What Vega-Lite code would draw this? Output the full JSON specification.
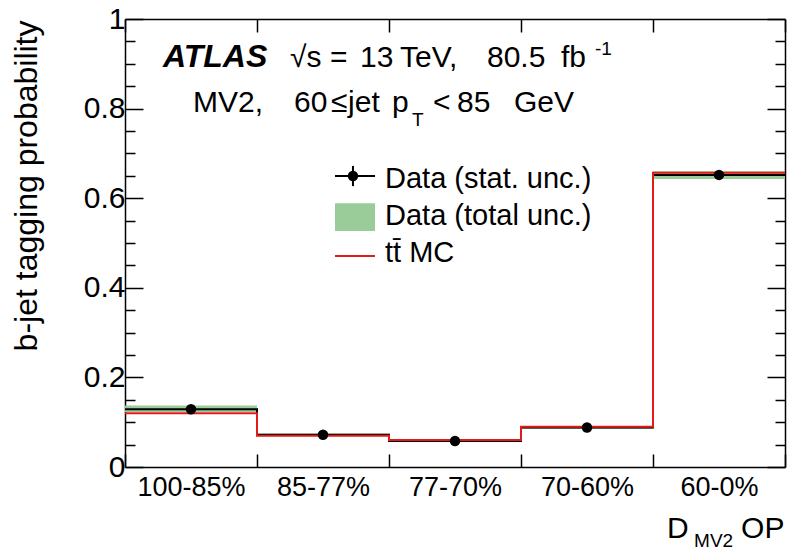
{
  "$schema": "https://vega.github.io/schema/vega-lite/v6.json",
  "width": 660,
  "height": 448,
  "autosize": {"type": "none"},
  "padding": {"left": 125, "top": 19, "right": 3, "bottom": 84},
  "background": "white",
  "config": {
    "view": {"stroke": null},
    "font": "Liberation Sans",
    "axis": {
      "grid": false,
      "domainColor": "black",
      "domainWidth": 1.5,
      "tickColor": "black",
      "tickWidth": 1.5,
      "labelColor": "black",
      "labelFont": "Liberation Sans",
      "titleFont": "Liberation Sans",
      "titleColor": "black",
      "labelFlush": false,
      "labelOverlap": false
    }
  },
  "datasets": {
    "bins": [
      {"bin": "100-85%", "lo": 0, "hi": 1, "mid": 0.5, "data": 0.129, "mc": 0.120, "tlo": 0.123, "thi": 0.137, "slo": 0.127, "shi": 0.131, "edges": [0, 1], "k": [0, 1]},
      {"bin": "85-77%", "lo": 1, "hi": 2, "mid": 1.5, "data": 0.072, "mc": 0.070, "tlo": 0.069, "thi": 0.075, "slo": 0.071, "shi": 0.073, "edges": [1, 2], "k": [0, 1]},
      {"bin": "77-70%", "lo": 2, "hi": 3, "mid": 2.5, "data": 0.058, "mc": 0.060, "tlo": 0.056, "thi": 0.060, "slo": 0.057, "shi": 0.059, "edges": [2, 3], "k": [0, 1]},
      {"bin": "70-60%", "lo": 3, "hi": 4, "mid": 3.5, "data": 0.088, "mc": 0.090, "tlo": 0.085, "thi": 0.091, "slo": 0.087, "shi": 0.089, "edges": [3, 4], "k": [0, 1]},
      {"bin": "60-0%", "lo": 4, "hi": 5, "mid": 4.5, "data": 0.652, "mc": 0.657, "tlo": 0.643, "thi": 0.660, "slo": 0.650, "shi": 0.654, "edges": [4, 5], "k": [0, 1]}
    ],
    "legend": [
      {"item": "stat", "label": "Data (stat. unc.)", "x1": 1.591, "x2": 1.894, "xm": 1.727, "xt": 1.97, "ys": 0.6496, "ylo": 0.627, "yhi": 0.672, "ytext": 0.6228},
      {"item": "total", "label": "Data (total unc.)", "x1": 1.591, "x2": 1.894, "xm": 1.727, "xt": 1.97, "ys": 0.558, "ylo": 0.527, "yhi": 0.589, "ytext": 0.5402},
      {"item": "mc", "label": "tt̄ MC", "x1": 1.591, "x2": 1.894, "xm": 1.727, "xt": 1.97, "ys": 0.471, "ylo": 0.471, "yhi": 0.471, "ytext": 0.4576}
    ],
    "annot": [
      {"kind": "atlas", "text": "ATLAS", "x": 0.288, "y": 0.893},
      {"kind": "main", "text": "√s", "x": 1.25, "y": 0.893},
      {"kind": "main", "text": "=", "x": 1.553, "y": 0.893},
      {"kind": "main", "text": "13", "x": 1.78, "y": 0.893},
      {"kind": "main", "text": "TeV,", "x": 2.083, "y": 0.893},
      {"kind": "main", "text": "80.5", "x": 2.742, "y": 0.893},
      {"kind": "main", "text": "fb", "x": 3.303, "y": 0.893},
      {"kind": "small", "text": "-1", "x": 3.56, "y": 0.9196},
      {"kind": "main", "text": "MV2,", "x": 0.515, "y": 0.7924},
      {"kind": "main", "text": "60", "x": 1.28, "y": 0.7924},
      {"kind": "main", "text": "≤", "x": 1.56, "y": 0.7924},
      {"kind": "main", "text": "jet", "x": 1.69, "y": 0.7924},
      {"kind": "main", "text": "p", "x": 2.023, "y": 0.7924},
      {"kind": "small", "text": "T", "x": 2.174, "y": 0.761},
      {"kind": "main", "text": "<", "x": 2.333, "y": 0.7924},
      {"kind": "main", "text": "85", "x": 2.515, "y": 0.7924},
      {"kind": "main", "text": "GeV", "x": 2.947, "y": 0.7924},
      {"kind": "main", "text": "D", "x": 4.106, "y": -0.1585},
      {"kind": "small", "text": "MV2", "x": 4.311, "y": -0.1786},
      {"kind": "main", "text": "OP", "x": 4.667, "y": -0.1585}
    ]
  },
  "layer": [
    {
      "data": {"name": "bins"},
      "mark": {"type": "rect", "color": "#99cc99", "opacity": 1},
      "encoding": {
        "x": {"field": "lo", "type": "quantitative", "scale": {"domain": [0, 5], "nice": false, "zero": false},
          "axis": {
            "orient": "bottom", "title": null,
            "values": [0, 0.5, 1, 1.5, 2, 2.5, 3, 3.5, 4, 4.5, 5],
            "labelExpr": "datum.value % 1 == 0.5 ? ['100-85%','85-77%','77-70%','70-60%','60-0%'][floor(datum.value)] : ''",
            "tickSize": -13,
            "tickOpacity": {"condition": {"test": "datum.value % 1 == 0.5", "value": 0}, "value": 1},
            "labelFontSize": 27,
            "labelPadding": 20,
            "labelBaseline": "top"
          }},
        "x2": {"field": "hi"},
        "y": {"field": "tlo", "type": "quantitative", "scale": {"domain": [0, 1], "nice": false, "zero": false},
          "axis": {
            "orient": "left",
            "values": [0, 0.05, 0.1, 0.15, 0.2, 0.25, 0.3, 0.35, 0.4, 0.45, 0.5, 0.55, 0.6, 0.65, 0.7, 0.75, 0.8, 0.85, 0.9, 0.95, 1],
            "labelExpr": "abs(datum.value*5 - round(datum.value*5)) < 0.001 ? (datum.value < 0.001 ? '0' : (datum.value > 0.999 ? '1' : format(datum.value, '.1f'))) : ''",
            "tickSize": {"condition": {"test": "abs(datum.value*5 - round(datum.value*5)) < 0.001", "value": -18}, "value": -10},
            "labelFontSize": 30,
            "labelPadding": 18,
            "title": "b-jet tagging probability",
            "titleFontSize": 32,
            "titleFontWeight": "normal",
            "titleAngle": -90,
            "titleAnchor": "end",
            "titleAlign": "right",
            "titleBaseline": "bottom",
            "titleX": -82,
            "titleY": 1
          }},
        "y2": {"field": "thi"}
      }
    },
    {
      "data": {"name": "bins"},
      "transform": [{"flatten": ["edges", "k"]}],
      "mark": {"type": "line", "color": "black", "strokeWidth": 2},
      "encoding": {
        "x": {"field": "edges", "type": "quantitative", "scale": {"domain": [0, 5], "nice": false, "zero": false},
          "axis": {"orient": "top", "title": null, "labels": false, "values": [0, 1, 2, 3, 4, 5], "tickSize": -13}},
        "y": {"field": "data", "type": "quantitative", "scale": {"domain": [0, 1], "nice": false, "zero": false},
          "axis": {"orient": "right", "title": null, "labels": false,
            "values": [0, 0.05, 0.1, 0.15, 0.2, 0.25, 0.3, 0.35, 0.4, 0.45, 0.5, 0.55, 0.6, 0.65, 0.7, 0.75, 0.8, 0.85, 0.9, 0.95, 1],
            "tickSize": {"condition": {"test": "abs(datum.value*5 - round(datum.value*5)) < 0.001", "value": -18}, "value": -10}}},
        "order": [{"field": "lo"}, {"field": "k"}]
      }
    },
    {
      "data": {"name": "bins"},
      "transform": [{"flatten": ["edges", "k"]}],
      "mark": {"type": "line", "color": "#e31a1c", "strokeWidth": 2},
      "encoding": {
        "x": {"field": "edges", "type": "quantitative", "scale": {"domain": [0, 5], "nice": false, "zero": false}, "axis": null},
        "y": {"field": "mc", "type": "quantitative", "scale": {"domain": [0, 1], "nice": false, "zero": false}, "axis": null},
        "order": [{"field": "lo"}, {"field": "k"}]
      }
    },
    {
      "data": {"name": "bins"},
      "mark": {"type": "rule", "color": "black", "strokeWidth": 2},
      "encoding": {
        "x": {"field": "mid", "type": "quantitative", "scale": {"domain": [0, 5], "nice": false, "zero": false}, "axis": null},
        "y": {"field": "slo", "type": "quantitative", "scale": {"domain": [0, 1], "nice": false, "zero": false}, "axis": null},
        "y2": {"field": "shi"}
      }
    },
    {
      "data": {"name": "bins"},
      "mark": {"type": "circle", "color": "black", "opacity": 1, "size": 110},
      "encoding": {
        "x": {"field": "mid", "type": "quantitative", "scale": {"domain": [0, 5], "nice": false, "zero": false}, "axis": null},
        "y": {"field": "data", "type": "quantitative", "scale": {"domain": [0, 1], "nice": false, "zero": false}, "axis": null}
      }
    },
    {
      "data": {"name": "legend"},
      "transform": [{"filter": "datum.item == 'total'"}],
      "mark": {"type": "rect", "color": "#99cc99", "opacity": 1},
      "encoding": {
        "x": {"field": "x1", "type": "quantitative", "scale": {"domain": [0, 5], "nice": false, "zero": false}, "axis": null},
        "x2": {"field": "x2"},
        "y": {"field": "ylo", "type": "quantitative", "scale": {"domain": [0, 1], "nice": false, "zero": false}, "axis": null},
        "y2": {"field": "yhi"}
      }
    },
    {
      "data": {"name": "legend"},
      "transform": [{"filter": "datum.item != 'total'"}],
      "mark": {"type": "rule", "strokeWidth": 2},
      "encoding": {
        "x": {"field": "x1", "type": "quantitative", "scale": {"domain": [0, 5], "nice": false, "zero": false}, "axis": null},
        "x2": {"field": "x2"},
        "y": {"field": "ys", "type": "quantitative", "scale": {"domain": [0, 1], "nice": false, "zero": false}, "axis": null},
        "color": {"field": "item", "type": "nominal", "scale": {"domain": ["stat", "mc"], "range": ["black", "#e31a1c"]}, "legend": null}
      }
    },
    {
      "data": {"name": "legend"},
      "transform": [{"filter": "datum.item == 'stat'"}],
      "mark": {"type": "rule", "strokeWidth": 2, "color": "black"},
      "encoding": {
        "x": {"field": "xm", "type": "quantitative", "scale": {"domain": [0, 5], "nice": false, "zero": false}, "axis": null},
        "y": {"field": "ylo", "type": "quantitative", "scale": {"domain": [0, 1], "nice": false, "zero": false}, "axis": null},
        "y2": {"field": "yhi"}
      }
    },
    {
      "data": {"name": "legend"},
      "transform": [{"filter": "datum.item == 'stat'"}],
      "mark": {"type": "circle", "color": "black", "opacity": 1, "size": 110},
      "encoding": {
        "x": {"field": "xm", "type": "quantitative", "scale": {"domain": [0, 5], "nice": false, "zero": false}, "axis": null},
        "y": {"field": "ys", "type": "quantitative", "scale": {"domain": [0, 1], "nice": false, "zero": false}, "axis": null}
      }
    },
    {
      "data": {"name": "legend"},
      "mark": {"type": "text", "align": "left", "baseline": "alphabetic", "fontSize": 29, "color": "black", "font": "Liberation Sans"},
      "encoding": {
        "x": {"field": "xt", "type": "quantitative", "scale": {"domain": [0, 5], "nice": false, "zero": false}, "axis": null},
        "y": {"field": "ytext", "type": "quantitative", "scale": {"domain": [0, 1], "nice": false, "zero": false}, "axis": null},
        "text": {"field": "label"}
      }
    },
    {
      "data": {"name": "annot"},
      "transform": [{"filter": "datum.kind == 'atlas'"}],
      "mark": {"type": "text", "align": "left", "baseline": "alphabetic", "fontSize": 32, "fontWeight": "bold", "fontStyle": "italic", "color": "black", "font": "Liberation Sans"},
      "encoding": {
        "x": {"field": "x", "type": "quantitative", "scale": {"domain": [0, 5], "nice": false, "zero": false}, "axis": null},
        "y": {"field": "y", "type": "quantitative", "scale": {"domain": [0, 1], "nice": false, "zero": false}, "axis": null},
        "text": {"field": "text"}
      }
    },
    {
      "data": {"name": "annot"},
      "transform": [{"filter": "datum.kind == 'main'"}],
      "mark": {"type": "text", "align": "left", "baseline": "alphabetic", "fontSize": 30, "color": "black", "font": "Liberation Sans"},
      "encoding": {
        "x": {"field": "x", "type": "quantitative", "scale": {"domain": [0, 5], "nice": false, "zero": false}, "axis": null},
        "y": {"field": "y", "type": "quantitative", "scale": {"domain": [0, 1], "nice": false, "zero": false}, "axis": null},
        "text": {"field": "text"}
      }
    },
    {
      "data": {"name": "annot"},
      "transform": [{"filter": "datum.kind == 'small'"}],
      "mark": {"type": "text", "align": "left", "baseline": "alphabetic", "fontSize": 19, "color": "black", "font": "Liberation Sans"},
      "encoding": {
        "x": {"field": "x", "type": "quantitative", "scale": {"domain": [0, 5], "nice": false, "zero": false}, "axis": null},
        "y": {"field": "y", "type": "quantitative", "scale": {"domain": [0, 1], "nice": false, "zero": false}, "axis": null},
        "text": {"field": "text"}
      }
    }
  ],
  "resolve": {"axis": {"x": "independent", "y": "independent"}}
}
